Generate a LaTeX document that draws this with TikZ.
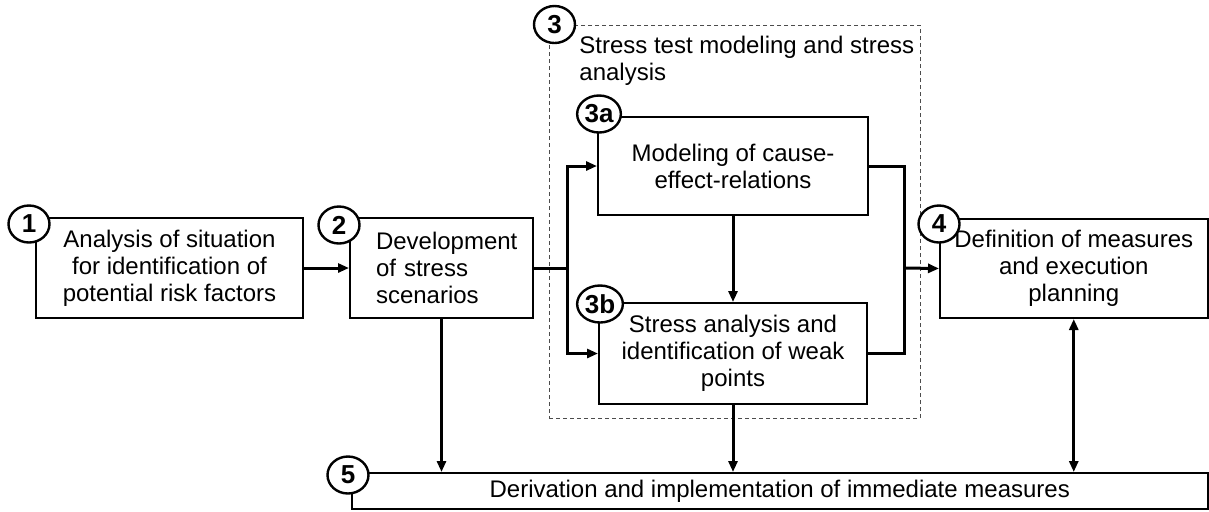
\documentclass[tikz,border=0pt]{standalone}
\usepackage{fontspec}
\setmainfont{Liberation Sans}
\usetikzlibrary{positioning,shapes.geometric,arrows.meta,calc}

\begin{document}
\begin{tikzpicture}[
  x=0.5pt, y=-0.5pt,
  every node/.style={font=\fontsize{12}{13.5}\selectfont},
  proc/.style={draw, line width=1pt, minimum height=50pt,
               align=center, inner sep=0pt},
  num/.style ={draw, line width=1.2pt, ellipse, fill=white,
               inner xsep=0.5pt, inner ysep=0pt,
               minimum width=20.5pt, minimum height=18.5pt,
               font=\fontsize{13}{14}\selectfont\bfseries},
  grp/.style ={draw=black!70, line width=0.5pt,
               dash pattern=on 2pt off 1.5pt},
  arr/.style ={-{Triangle[length=5.5pt,width=4.5pt]}, line width=1.5pt},
  link/.style={line width=1.5pt}
]
\useasboundingbox (0,0) rectangle (1209,511);

%% --- Stage 3 frame -------------------------------------------
\node[grp, minimum width=185.5pt, minimum height=196.5pt] (stg)
     at (734.5,221.5) {};
\node[anchor=north west, align=left, inner sep=0pt] (stgtxt)
     at (579,36) {Stress test modeling and stress\\analysis};

%% --- Left track ----------------------------------------------
\node[proc, minimum width=133.5pt] (sit) at (169.5,268)
     {Analysis of situation\\for identification of\\potential risk factors};

\node[proc, right=22.5pt of sit, align=left, text width=65.5pt,
      inner xsep=13pt] (scen)
     {Development\\of stress\\scenarios};

%% --- Stage 3 boxes -------------------------------------------
\node[proc, minimum width=135pt, minimum height=49pt] (model)
     at (733,166) {Modeling of cause-\\effect-relations};

\node[proc, minimum width=134pt, minimum height=50.5pt,
      below=43pt of model] (weak)
     {Stress analysis and\\identification of weak\\points};

%% --- Right and bottom ----------------------------------------
\node[proc, minimum width=133.75pt, minimum height=49.5pt] (meas)
     at (1073.75,268.5) {Definition of measures\\and execution\\planning};

\node[proc, minimum width=427.75pt, minimum height=18pt] (imm)
     at (779.75,491) {Derivation and implementation of immediate measures};

%% --- Step numbers --------------------------------------------
\node[num] (n1)  at ($(sit.north west)+(-6,7)$)    {1};
\node[num] (n2)  at ($(scen.north west)+(-10,8)$)  {2};
\node[num] (n3)  at ($(stg.north west)+(6,0)$)     {3};
\node[num] (n3a) at ($(model.north west)+(2,-2)$)  {3a};
\node[num] (n3b) at ($(weak.north west)+(2,2)$)    {3b};
\node[num] (n4)  at ($(meas.north west)+(0,6)$)    {4};
\node[num] (n5)  at ($(imm.north west)+(-3,3)$)    {5};

%% --- Connectors ----------------------------------------------
\coordinate (split) at (567,268);
\coordinate (merge) at (904,268);

\draw[arr]  (sit.east) -- (scen.west);
\draw[link] (scen.east) -- (split);
\draw[arr]  (split) |- (model.west);
\draw[arr]  (split) |- (weak.west);
\draw[arr]  (model.south) -- (weak.north);
\draw[link] (model.east) -| (merge);
\draw[link] (weak.east)  -| (merge);
\draw[arr]  (merge) -- (meas.west);

\draw[arr] (scen.south) -- (scen.south |- imm.north);
\draw[arr] (weak.south) -- (weak.south |- imm.north);
\draw[arr, {Triangle[length=5.5pt,width=4.5pt]}-{Triangle[length=5.5pt,width=4.5pt]}]
     (meas.south) -- (meas.south |- imm.north);

\end{tikzpicture}
\end{document}
